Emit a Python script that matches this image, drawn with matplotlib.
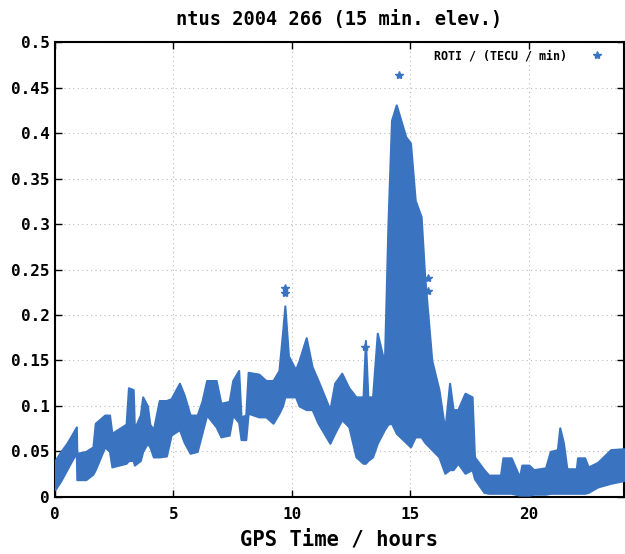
import matplotlib
matplotlib.use("Agg")
import matplotlib.pyplot as plt
from matplotlib.ticker import FuncFormatter, MultipleLocator

# ROTI envelope: hour, lower edge, upper edge of the point cloud
hours = [0.0, 0.25, 0.5, 0.75, 0.9, 0.92, 1.3, 1.6, 1.7, 2.1, 2.3, 2.4, 3.0, 3.1, 3.3,
         3.35, 3.6, 3.7, 3.9, 4.0, 4.15, 4.4, 4.7, 4.9, 5.25, 5.45, 5.7, 6.0, 6.2, 6.4,
         6.8, 7.0, 7.35, 7.5, 7.75, 7.85, 8.05, 8.15, 8.6, 8.9, 9.2, 9.45, 9.6, 9.7, 9.85,
         10.15, 10.3, 10.6, 10.85, 11.1, 11.6, 11.8, 12.1, 12.4, 12.7, 13.0, 13.1, 13.2,
         13.4, 13.6, 13.9, 14.05, 14.2, 14.4, 14.8, 15.0, 15.2, 15.45, 15.6, 15.9, 16.2,
         16.45, 16.65, 16.8, 17.0, 17.3, 17.6, 17.7, 18.1, 18.3, 18.8, 18.9, 19.25, 19.6,
         19.7, 20.0, 20.2, 20.7, 20.9, 21.2, 21.3, 21.45, 21.6, 22.0, 22.05, 22.35, 22.5,
         22.9, 23.45, 24.0]
roti_low = [0.008, 0.018, 0.030, 0.042, 0.048, 0.019, 0.019, 0.025, 0.030, 0.055, 0.050,
            0.033, 0.037, 0.040, 0.040, 0.035, 0.040, 0.050, 0.059, 0.055, 0.044, 0.044,
            0.045, 0.068, 0.074, 0.060, 0.048, 0.050, 0.070, 0.090, 0.077, 0.066, 0.068,
            0.090, 0.082, 0.063, 0.063, 0.092, 0.088, 0.088, 0.081, 0.092, 0.100, 0.110,
            0.110, 0.110, 0.100, 0.096, 0.096, 0.081, 0.059, 0.070, 0.085, 0.077, 0.044,
            0.037, 0.037, 0.040, 0.044, 0.059, 0.074, 0.080, 0.081, 0.070, 0.060, 0.055,
            0.066, 0.066, 0.060, 0.052, 0.044, 0.026, 0.030, 0.030, 0.037, 0.026, 0.030,
            0.020, 0.005, 0.004, 0.004, 0.004, 0.004, 0.002, 0.002, 0.002, 0.003, 0.003,
            0.004, 0.004, 0.004, 0.004, 0.004, 0.004, 0.004, 0.004, 0.005, 0.011, 0.015,
            0.018]
roti_high = [0.040, 0.050, 0.059, 0.070, 0.077, 0.048, 0.050, 0.055, 0.081, 0.090, 0.090,
             0.070, 0.080, 0.120, 0.118, 0.075, 0.090, 0.110, 0.100, 0.080, 0.074, 0.106,
             0.106, 0.108, 0.125, 0.112, 0.090, 0.090, 0.105, 0.128, 0.128, 0.103, 0.105,
             0.128, 0.139, 0.088, 0.090, 0.137, 0.135, 0.128, 0.128, 0.139, 0.180, 0.210,
             0.155, 0.140, 0.150, 0.175, 0.143, 0.128, 0.096, 0.125, 0.136, 0.120, 0.110,
             0.110, 0.172, 0.110, 0.110, 0.180, 0.147, 0.300, 0.414, 0.431, 0.396, 0.389,
             0.326, 0.308, 0.242, 0.150, 0.118, 0.074, 0.125, 0.096, 0.096, 0.114, 0.110,
             0.044, 0.030, 0.024, 0.024, 0.043, 0.043, 0.022, 0.035, 0.035, 0.030, 0.032,
             0.050, 0.052, 0.076, 0.060, 0.031, 0.031, 0.043, 0.043, 0.033, 0.038, 0.052,
             0.053]

# isolated points above the cloud
spike_hours = [14.5, 9.72, 9.72, 15.75, 15.75, 13.1]
spike_roti = [0.464, 0.230, 0.224, 0.241, 0.226, 0.165]

BLUE = "#3a74c0"
MONO = "DejaVu Sans Mono"

fig = plt.figure(figsize=(6.25, 5.54), dpi=100)
ax = fig.add_axes([0.088, 0.103, 0.91, 0.821])

ax.fill_between(hours, roti_low, roti_high, color=BLUE, linewidth=1.5,
                edgecolor=BLUE, zorder=3)
ax.plot(spike_hours, spike_roti, linestyle="none", marker="*", markersize=6,
        color=BLUE, zorder=3)
# legend entry
ax.plot([], [], linestyle="none", marker="*", markersize=6, color=BLUE,
        label="ROTI / (TECU / min)")

ax.set_xlim(0, 24)
ax.set_ylim(0, 0.5)
ax.xaxis.set_major_locator(MultipleLocator(5))
ax.yaxis.set_major_locator(MultipleLocator(0.05))
ax.yaxis.set_major_formatter(FuncFormatter(lambda v, p: "%g" % round(v, 2)))
ax.tick_params(direction="in", top=True, right=True, length=5, width=1,
               labelsize=11.5, pad=4)
ax.tick_params(axis="x", pad=7)
for lab in ax.get_xticklabels() + ax.get_yticklabels():
    lab.set_fontfamily(MONO)
    lab.set_fontweight("bold")

ax.grid(True, color="#bbbbbb", linestyle=(0, (1, 3)), linewidth=0.8, zorder=0)
for s in ax.spines.values():
    s.set_linewidth(1.5)

ax.set_title("ntus 2004 266 (15 min. elev.)", fontsize=13.4, fontweight="bold",
             family=MONO, pad=12)
ax.set_xlabel("GPS Time / hours", fontsize=14.8, fontweight="bold", family=MONO,
              labelpad=6)

leg = ax.legend(loc="upper right", frameon=False, markerfirst=False,
                prop={"family": MONO, "weight": "bold", "size": 8.4},
                handletextpad=1.5, borderaxespad=0.2, bbox_to_anchor=(0.985, 1.0))

fig.savefig("out.png", dpi=100)
